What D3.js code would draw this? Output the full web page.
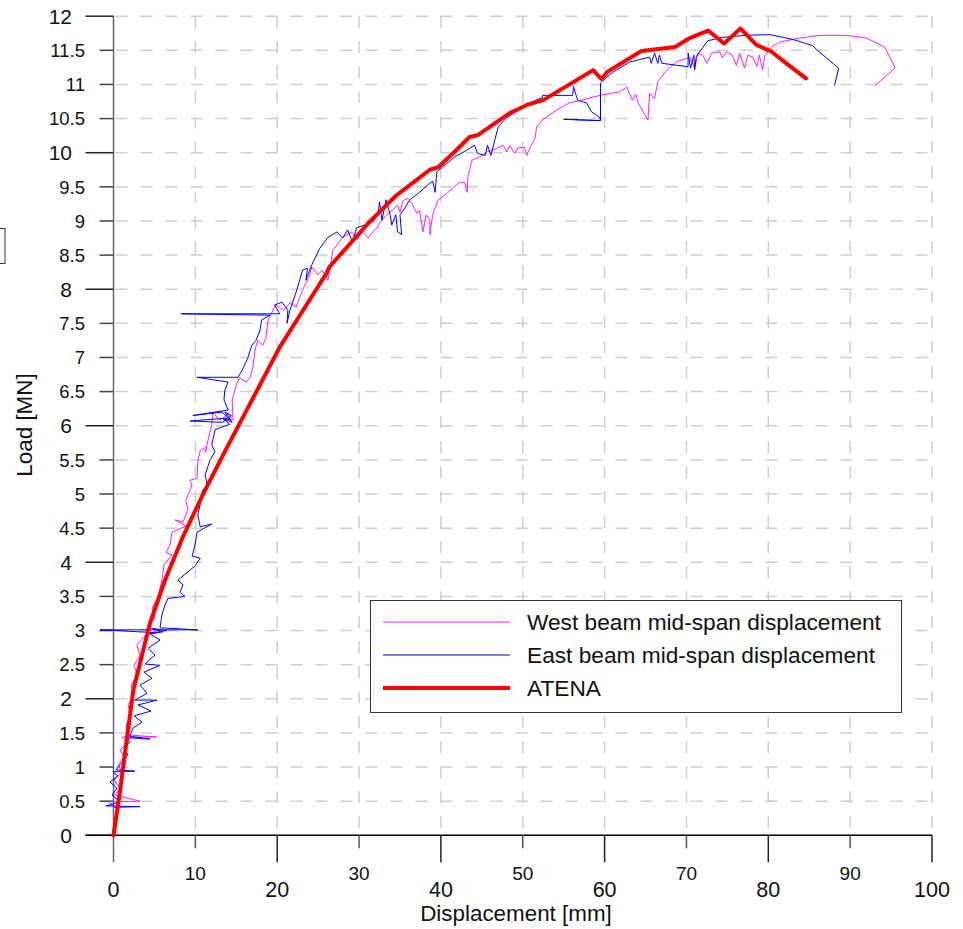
<!DOCTYPE html>
<html>
<head>
<meta charset="utf-8">
<script src="https://cdn.jsdelivr.net/npm/d3@7"></script>
<style>
  html, body { margin: 0; padding: 0; background: #fff; }
  svg { display: block; font-family: "Liberation Sans", Arial, sans-serif; }
</style>
</head>
<body>
<svg id="chart" width="963" height="929"></svg>
<script>
// Measured load–displacement response, [displacement mm, load MN]
const westBeam = [
  [0.3,0.4],[-0.55,0.49],[3.24,0.5],[0.18,0.59],[0.79,0.69],[0.06,0.81],[1.04,0.93],[0.55,1.03],
  [1.28,1.15],[0.79,1.25],[1.65,1.35],[1.04,1.44],[5.3,1.44],[1.77,1.47],[1.53,1.62],[2.14,1.76],
  [1.77,1.91],[2.5,2.06],[2.14,2.2],[2.87,2.35],[2.5,2.49],[3.24,2.64],[2.87,2.79],[3.85,2.92],
  [5.43,3.01],[4.09,3.04],[5.07,3.18],[4.7,3.33],[5.43,3.48],[5.68,3.62],[5.92,3.74],[6.17,3.96],
  [7.14,4.11],[6.41,4.14],[6.9,4.25],[7.14,4.44],[8.85,4.53],[7.5,4.62],[8.49,4.59],[9.1,4.77],
  [8.85,4.91],[9.6,5.13],[9.34,5.2],[10.2,5.23],[10.3,5.47],[10.6,5.64],[11.4,5.69],[11.2,5.61],
  [11.55,5.79],[12.0,6.01],[12.15,6.19],[13.0,6.08],[14.0,6.17],[14.6,6.08],[14.5,6.38],[15.0,6.6],
  [15.4,6.71],[16.2,6.64],[16.7,6.71],[17.0,6.84],[17.3,7.11],[17.6,7.25],[18.25,7.18],[18.6,7.28],
  [18.9,7.55],[19.35,7.66],[19.8,7.77],[20.8,7.69],[21.55,7.8],[22.3,7.74],[23.1,7.99],[24.0,8.21],
  [24.2,8.33],[24.97,8.21],[25.5,8.28],[26.2,8.13],[26.8,8.57],[28.0,8.76],[29.1,8.84],[29.8,8.72],
  [30.3,8.87],[31.1,8.75],[31.7,8.84],[32.2,8.9],[32.5,8.97],[33.4,9.09],[34.1,9.16],[34.7,9.23],
  [35.0,9.13],[35.4,9.3],[35.97,9.33],[36.45,9.26],[37.1,9.11],[37.4,9.16],[37.8,8.84],[38.2,9.09],
  [38.65,9.01],[38.65,8.8],[39.0,9.09],[39.6,9.3],[40.7,9.4],[42.3,9.57],[42.9,9.56],[43.2,9.42],
  [43.3,9.65],[43.8,9.89],[44.75,9.94],[45.6,10.01],[46.8,10.06],[47.6,10.11],[48.05,10.01],[48.4,10.11],
  [49.0,9.99],[49.4,10.07],[50.2,10.08],[50.5,9.96],[50.9,10.08],[51.5,10.21],[51.7,10.38],[52.4,10.48],
  [54.2,10.63],[55.7,10.73],[57.8,10.79],[59.4,10.84],[61.8,10.89],[62.7,10.96],[63.4,10.77],[63.8,10.86],
  [64.06,10.74],[64.7,10.6],[65.3,10.48],[65.5,10.87],[66.1,10.79],[66.5,11.04],[67.6,11.21],[68.8,11.33],
  [70.4,11.4],[71.0,11.24],[71.4,11.46],[71.97,11.43],[72.5,11.31],[73.1,11.46],[74.05,11.48],[74.4,11.39],
  [74.9,11.48],[75.6,11.43],[76.1,11.28],[76.5,11.46],[77.1,11.24],[77.5,11.43],[78.1,11.4],[78.6,11.26],
  [78.9,11.43],[79.3,11.21],[79.55,11.41],[80.4,11.55],[81.4,11.62],[83.8,11.68],[86.3,11.72],[89.5,11.72],
  [92.0,11.68],[94.2,11.55],[94.8,11.41],[95.5,11.24],[93.1,10.99]
];

const eastBeam = [
  [0.18,0.41],[3.24,0.42],[-0.92,0.43],[0.79,0.49],[-0.18,0.59],[0.43,0.69],[-0.43,0.78],[0.55,0.87],
  [-0.06,0.93],[2.6,0.94],[0.31,0.96],[1.04,1.07],[1.77,1.17],[1.28,1.28],[2.01,1.37],[1.53,1.43],
  [4.46,1.41],[2.0,1.45],[2.38,1.57],[3.48,1.66],[2.5,1.75],[4.58,1.82],[2.99,1.91],[5.3,1.98],
  [2.6,1.98],[4.09,2.08],[3.24,2.2],[4.7,2.3],[3.72,2.39],[5.68,2.49],[3.85,2.51],[5.07,2.64],
  [4.21,2.74],[5.68,2.86],[4.46,2.95],[6.0,2.98],[4.8,3.03],[6.5,3.0],[5.0,2.97],
  [-1.65,3.01],[10.3,3.01],[5.68,3.04],[5.92,3.23],[6.29,3.37],
  [6.65,3.47],[8.73,3.5],[8.12,3.56],[8.49,3.67],[7.88,3.74],[9.1,3.86],[10.0,3.95],[10.6,4.06],
  [9.6,4.09],[9.95,4.25],[10.2,4.44],[12.0,4.56],[10.6,4.52],[10.3,4.69],[10.7,4.91],[10.9,5.06],
  [11.5,5.1],[11.2,5.28],[11.8,5.5],[12.4,5.62],[12.0,5.72],[12.4,5.94],
  [13.2,5.98],[14.2,6.02],[13.4,6.1],[14.5,6.05],[13.6,6.2],[14.4,6.15],[13.3,6.05],
  [9.34,6.07],[13.6,6.11],
  [14.35,6.08],[13.25,6.2],[9.7,6.15],[14.0,6.23],[13.5,6.38],[13.6,6.52],[14.0,6.64],[10.2,6.71],
  [15.2,6.71],[15.7,6.81],[16.4,6.99],[16.9,7.18],[17.4,7.25],[17.9,7.4],[18.1,7.55],[19.1,7.62],
  [8.24,7.64],[20.3,7.64],[19.7,7.77],[20.6,7.81],[21.3,7.69],[21.2,7.5],[21.55,7.69],[22.4,7.99],
  [23.1,8.28],[23.7,8.31],[23.5,8.13],[24.2,8.35],[25.2,8.6],[26.2,8.76],[27.3,8.84],[28.0,8.75],
  [28.6,8.87],[29.2,8.69],[29.7,8.9],[30.7,8.94],[31.7,8.99],[32.3,9.09],[32.5,9.28],[32.8,9.01],
  [33.3,9.31],[33.8,9.09],[34.0,8.94],[34.5,9.09],[34.7,8.84],[35.2,8.8],[35.0,9.09],[35.6,9.19],
  [36.2,9.31],[37.4,9.42],[38.6,9.55],[39.0,9.58],[39.3,9.42],[39.5,9.72],[40.2,9.79],[41.7,9.94],
  [43.2,10.04],[44.1,10.11],[44.5,9.99],[45.4,9.96],[45.7,10.11],[46.1,9.96],[46.6,10.19],[47.0,10.38],
  [48.1,10.52],[50.9,10.73],[52.4,10.81],[52.4,10.84],[56.1,10.84],[56.2,10.97],[56.7,10.77],[57.8,10.73],
  [58.4,10.6],[59.4,10.52],[59.5,10.47],[55.0,10.49],[59.5,10.47],[59.5,11.02],[60.3,11.11],[61.0,11.18],
  [63.1,11.33],[65.5,11.4],[65.7,11.31],[66.1,11.46],[66.5,11.31],[66.7,11.43],[67.0,11.31],[70.2,11.26],
  [70.2,11.46],[70.5,11.24],[70.9,11.43],[71.0,11.21],[71.2,11.41],[72.6,11.64],[74.4,11.69],[77.3,11.72],
  [80.2,11.73],[83.0,11.66],[85.4,11.57],[86.0,11.5],[88.6,11.24],[88.1,10.99]
];

// Numerical prediction
const atena = [
  [0,0],[0.71,0.57],[2.42,2.13],[4.46,3.11],[6.3,3.74],[8.5,4.38],[10.95,5.0],[13.5,5.6],[16.8,6.35],
  [20.35,7.16],
  [26.0,8.23],[26.4,8.33],[31.3,8.99],[34.6,9.38],[38.65,9.75],[39.7,9.79],[41.9,10.04],[43.5,10.23],
  [44.55,10.26],[48.4,10.58],[50.5,10.70],[52.5,10.77],[58.6,11.21],[59.6,11.08],[60.4,11.19],
  [64.5,11.49],[68.6,11.55],[70.4,11.68],[72.65,11.79],[74.6,11.60],[76.6,11.82],[78.55,11.58],
  [80.4,11.48],[82.4,11.29],[84.6,11.09]
];

const xTicks = [0,10,20,30,40,50,60,70,80,90,100];
const yTicks = [0,0.5,1,1.5,2,2.5,3,3.5,4,4.5,5,5.5,6,6.5,7,7.5,8,8.5,9,9.5,10,10.5,11,11.5,12];

const legendItems = [
  { name: "West beam mid-span displacement", color: "#ff1aff", width: 1 },
  { name: "East beam mid-span displacement", color: "#0000ff", width: 1 },
  { name: "ATENA", color: "#ff0000", width: 4 }
];

const svg = d3.select("#chart");
const x = d3.scaleLinear().domain([0, 100]).range([113.5, 932]);
const y = d3.scaleLinear().domain([0, 12]).range([835.3, 16.2]);

// dashed grid
const grid = svg.append("g").attr("stroke", "#cfcfcf").attr("stroke-width", 1.5)
  .attr("stroke-dasharray", "12,13");
grid.selectAll("line.h").data(yTicks.filter(d => d > 0)).join("line")
  .attr("x1", x(0) + 2).attr("x2", x(100)).attr("y1", d => y(d)).attr("y2", d => y(d));
grid.selectAll("line.v").data(xTicks.filter(d => d > 0)).join("line")
  .attr("x1", d => x(d)).attr("x2", d => x(d)).attr("y1", y(12)).attr("y2", y(0));

const isMajorX = d => d % 20 === 0;
const isMajorY = d => d % 2 === 0;

// y axis
const yAxis = svg.append("g");
yAxis.append("line").attr("x1", x(0)).attr("x2", x(0)).attr("y1", y(12)).attr("y2", y(0) + 27)
  .attr("stroke", "#666").attr("stroke-width", 1.5);
yAxis.selectAll("line.t").data(yTicks).join("line")
  .attr("x1", d => x(0) - (isMajorY(d) ? 28 : 14)).attr("x2", x(0))
  .attr("y1", d => y(d)).attr("y2", d => y(d))
  .attr("stroke", d => isMajorY(d) ? "#222" : "#444").attr("stroke-width", 1.5);
yAxis.selectAll("text").data(yTicks).join("text")
  .attr("x", d => isMajorY(d) ? 72 : 85)
  .attr("y", d => y(d)).attr("dy", "0.36em")
  .attr("text-anchor", "end")
  .attr("font-size", d => isMajorY(d) ? 21 : 18.5)
  .attr("fill", "#111")
  .text(d => d3.format("~g")(d));

// x axis
const xAxis = svg.append("g");
xAxis.append("line").attr("x1", x(0) - 28).attr("x2", x(100)).attr("y1", y(0)).attr("y2", y(0))
  .attr("stroke", "#000").attr("stroke-width", 1.5);
xAxis.selectAll("line.t").data(xTicks.filter(d => d > 0)).join("line")
  .attr("x1", d => x(d)).attr("x2", d => x(d))
  .attr("y1", y(0)).attr("y2", d => y(0) + (isMajorX(d) ? 27 : 13))
  .attr("stroke", d => isMajorX(d) ? "#222" : "#555").attr("stroke-width", 1.5);
xAxis.selectAll("text").data(xTicks).join("text")
  .attr("x", d => x(d))
  .attr("y", d => isMajorX(d) ? 897 : 880)
  .attr("text-anchor", "middle")
  .attr("font-size", d => isMajorX(d) ? 21.5 : 19)
  .attr("fill", "#111")
  .text(d => d);

// axis titles
svg.append("text").attr("x", 516).attr("y", 921).attr("text-anchor", "middle")
  .attr("font-size", 22.4).attr("fill", "#111").text("Displacement [mm]");
svg.append("text").attr("transform", "translate(32,425) rotate(-90)").attr("text-anchor", "middle")
  .attr("font-size", 22.4).attr("fill", "#111").text("Load [MN]");

// small frame at the left edge
svg.append("rect").attr("x", -10).attr("y", 228.5).attr("width", 15).attr("height", 35)
  .attr("fill", "none").attr("stroke", "#333").attr("stroke-width", 1);

// series
const line = d3.line().x(d => x(d[0])).y(d => y(d[1]));
const series = [
  { data: westBeam, style: legendItems[0] },
  { data: eastBeam, style: legendItems[1] },
  { data: atena, style: legendItems[2] }
];
svg.append("g").selectAll("path").data(series).join("path")
  .attr("d", d => line(d.data))
  .attr("fill", "none")
  .attr("stroke", d => d.style.color)
  .attr("stroke-width", d => d.style.width)
  .attr("stroke-linejoin", "round")
  .attr("stroke-linecap", "round");

// legend
const legend = svg.append("g");
legend.append("rect").attr("x", 370.5).attr("y", 600.5).attr("width", 531).attr("height", 112)
  .attr("fill", "#fff").attr("stroke", "#333").attr("stroke-width", 1);
const rows = legend.selectAll("g.row").data(legendItems).join("g")
  .attr("transform", (d, i) => `translate(0,${622 + i * 33})`);
rows.append("line").attr("x1", 383).attr("x2", 510).attr("y1", 0).attr("y2", 0)
  .attr("stroke", d => d.color).attr("stroke-width", d => d.width);
rows.append("text").attr("x", 527).attr("y", 0).attr("dy", "0.36em")
  .attr("font-size", 22.7).attr("fill", "#111").text(d => d.name);
</script>
</body>
</html>
